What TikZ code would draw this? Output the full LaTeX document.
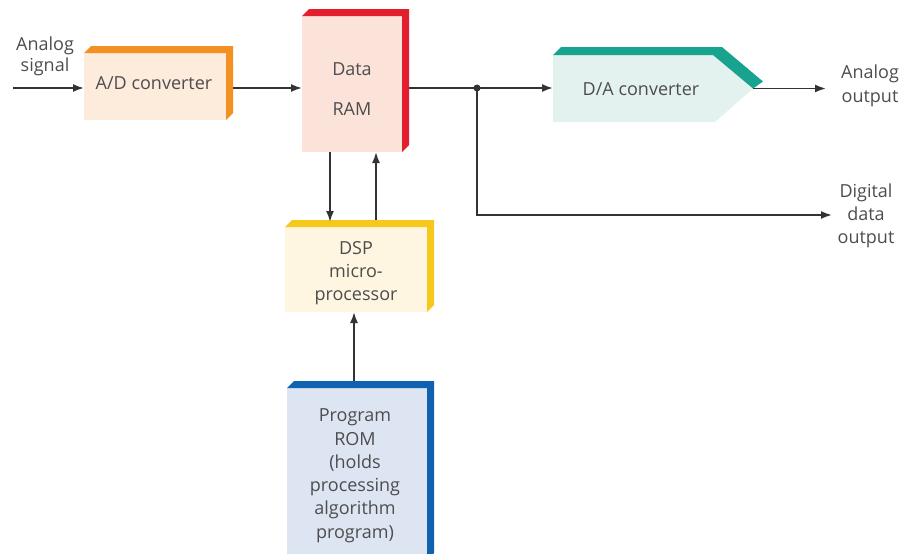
\documentclass[tikz,border=0pt]{standalone}
\usepackage{fontspec}
\setmainfont{Open Sans}
\usetikzlibrary{arrows.meta}
\definecolor{txt}{HTML}{4D4D4F}
\definecolor{ln}{HTML}{333333}
\definecolor{adface}{HTML}{FDEBDB}
\definecolor{adband}{HTML}{F39021}
\definecolor{ramface}{HTML}{FCE3D9}
\definecolor{ramband}{HTML}{E31E2D}
\definecolor{daface}{HTML}{E3F1EF}
\definecolor{daband}{HTML}{17A38D}
\definecolor{dspface}{HTML}{FEF6E0}
\definecolor{dspband}{HTML}{F7C81C}
\definecolor{romface}{HTML}{DDE5F3}
\definecolor{romband}{HTML}{0F62AF}
\newcommand\boxband[3]{%
  \fill[#2] (#1.north west) -- ++(#3,-#3) -- ([shift={(#3,-#3)}]#1.north east)
    -- ([shift={(#3,-#3)}]#1.south east) -- (#1.south east) -- (#1.north east) -- cycle;}
\begin{document}
\begin{tikzpicture}[x=1pt,y=-1pt,
  face/.style={inner sep=0pt, outer sep=0pt, draw=none},
  lbl/.style={font=\fontsize{18}{22}\selectfont, text=txt, anchor=base, inner sep=0pt},
  arr/.style={draw=ln, line width=1.8pt, -{Latex[length=11pt,width=8pt]}},
  wire/.style={draw=ln, line width=1.8pt}]
\useasboundingbox (0,0) rectangle (903,554);
\clip (0,0) rectangle (903,554);

% boxes
\node[face, fill=adface, minimum width=142pt, minimum height=67pt] (ad) at (155,86.5) {};
\boxband{ad}{adband}{7}
\node[face, fill=ramface, minimum width=100pt, minimum height=136pt] (ram) at (352,84) {};
\boxband{ram}{ramband}{7}
\node[face, fill=dspface, minimum width=142pt, minimum height=85pt] (dsp) at (356,269.5) {};
\boxband{dsp}{dspband}{7}
\node[face, minimum width=140pt, minimum height=172pt] (rom) at (357,474) {};
\fill[romface] (rom.south west) rectangle (rom.north east);
\boxband{rom}{romband}{7}
\node[face, minimum width=200pt, minimum height=67pt] (da) at (653,88.5) {};
\fill[daface] (da.north west) -- ([xshift=-40pt]da.north east) -- (da.east)
  -- ([xshift=-38pt]da.south east) -- (da.south west) -- cycle;
\fill[daband] (da.north west) -- ++(8,-8) -- ([shift={(-31,-8)}]da.north east)
  -- ([shift={(10,-7)}]da.east) -- (da.east) -- ([xshift=-40pt]da.north east) -- cycle;

% texts
\node[lbl] at (45,50) {Analog};
\node[lbl] at (45,71) {signal};
\node[lbl] at (154,89) {A/D converter};
\node[lbl] at (352,75) {Data};
\node[lbl] at (352,115) {RAM};
\node[lbl] at (641,95) {D/A converter};
\node[lbl] at (356,254) {DSP};
\node[lbl] at (356,277) {micro-};
\node[lbl] at (356,300) {processor};
\node[lbl] at (355,421) {Program};
\node[lbl] at (355,445) {ROM};
\node[lbl] at (355,468) {(holds};
\node[lbl] at (355,491) {processing};
\node[lbl] at (355,514) {algorithm};
\node[lbl] at (355,538) {program)};
\node[lbl] at (870,78) {Analog};
\node[lbl] at (870,102) {output};
\node[lbl] at (866,197) {Digital};
\node[lbl] at (866,220) {data};
\node[lbl] at (866,243) {output};

% connectors
\coordinate (in) at (13,88);
\coordinate (j) at (477,88);
\coordinate (aout) at (826,88);
\coordinate (dout) at (832,215);
\coordinate (adout) at ([xshift=7pt]ad.east);
\coordinate (ramout) at ([xshift=7pt]ram.east);
\draw[arr] (in) -- (in -| ad.west);
\draw[arr] (adout |- in) -- (in -| ram.west);
\draw[wire] (ramout |- j) -- (j);
\draw[arr] (j) -- (j -| da.west);
\draw[arr] (j) |- (dout);
\fill[ln] (j) circle (3.5pt);
\draw[arr] (da.east) -- (da.east -| aout);
\draw[arr] ([xshift=-22pt]ram.south) -- ([xshift=-26pt,yshift=5pt]dsp.north);
\draw[arr] ([xshift=20pt,yshift=7pt]dsp.north) -- ([xshift=24pt]ram.south);
\draw[arr] ([xshift=-3pt,yshift=7pt]rom.north) -- ([xshift=-2pt]dsp.south);
\end{tikzpicture}
\end{document}
